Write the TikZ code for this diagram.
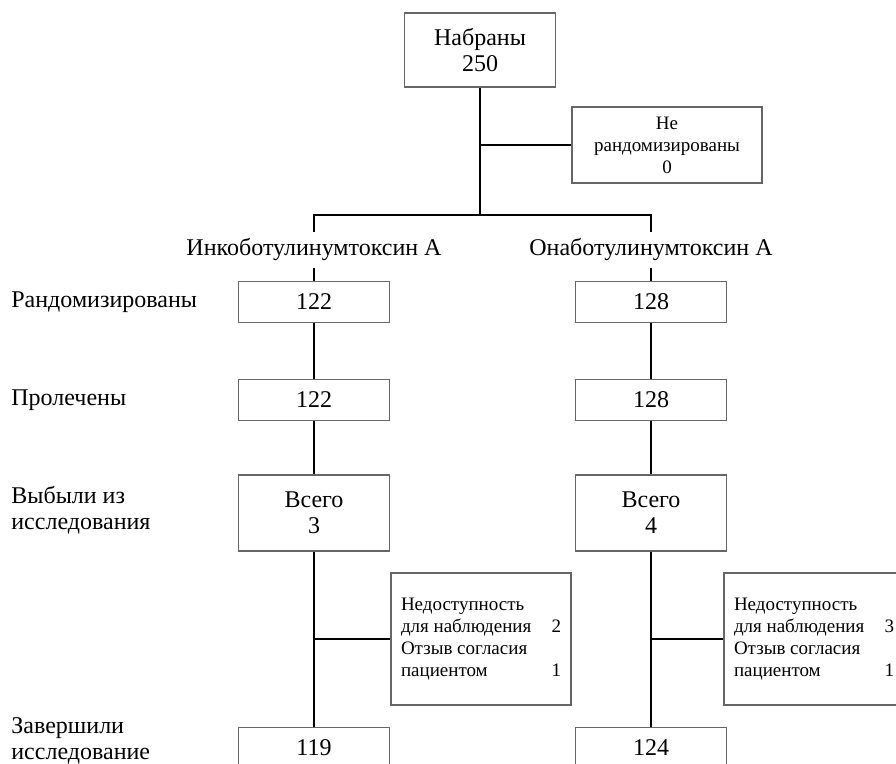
\documentclass[tikz,border=0pt]{standalone}
\usepackage{fontspec}
\setmainfont{Liberation Serif}
\usepackage{tikz}
\usetikzlibrary{positioning}

\begin{document}
\begin{tikzpicture}[x=0.5pt, y=-0.5pt,
        every node/.style={font=\fontsize{12}{13}\selectfont},
        countbox/.style={draw=black!60, line width=0.7pt, minimum width=75.5pt, minimum height=20.5pt, align=center, inner sep=2pt},
        sidebox/.style={draw=black!60, line width=0.7pt, minimum width=90pt, minimum height=66pt, inner sep=0pt, font=\fontsize{9.5}{10.9}\selectfont},
        rowlabel/.style={anchor=west, align=left, inner sep=0pt},
        link/.style={line width=1pt}]
        \clip (0,0) rectangle (896,764);
        \node[countbox, minimum height=37pt] (enrolled) at (480,50) {Набраны\\250};
        \node[countbox, minimum width=95pt, minimum height=38pt, font=\fontsize{9.5}{11}\selectfont] (notrand) at (667,145) {Не\\рандомизированы\\0};
        \coordinate (split) at (480,215);
        \coordinate (lsplit) at (314,215);
        \coordinate (rsplit) at (651,215);

        % the two arms
        \node (inco) at (314,250) {Инкоботулинумтоксин А};
        \node (ona) at (651,250) {Онаботулинумтоксин А};
        \node[countbox] (irand) at (314,302) {122};
        \node[countbox] (orand) at (651,302) {128};
        \node[countbox] (itreat) at (314,400) {122};
        \node[countbox] (otreat) at (651,400) {128};
        \node[countbox, minimum height=38pt] (idrop) at (314,513) {Всего\\3};
        \node[countbox, minimum height=38pt] (odrop) at (651,513) {Всего\\4};
        \node[sidebox] (ireason) at (481,639) {\begin{tabular*}{80pt}{@{}l@{\extracolsep{\fill}}r@{}}
            Недоступность & \\ для наблюдения & 2\\ Отзыв согласия & \\ пациентом & 1
          \end{tabular*}};
        \node[sidebox] (oreason) at (814,639) {\begin{tabular*}{80pt}{@{}l@{\extracolsep{\fill}}r@{}}
            Недоступность & \\ для наблюдения & 3\\ Отзыв согласия & \\ пациентом & 1
          \end{tabular*}};
        \node[countbox] (idone) at (314,748) {119};
        \node[countbox] (odone) at (651,748) {124};

        % row labels
        \node[rowlabel] (lrand) at (11,302) {Рандомизированы};
        \node[rowlabel] (ltreat) at (11,400) {Пролечены};
        \node[rowlabel] (ldrop) at (11,510) {Выбыли из\\исследования};
        \node[rowlabel] (ldone) at (11,741) {Завершили\\исследование};

        \draw[link] (enrolled) -- (split);
        \draw[link] (enrolled.south |- notrand.west) -- (notrand.west);
        \draw[link] (inco.north) -- (lsplit) -- (rsplit) -- (ona.north);
        \draw[link] (inco.south) -- (irand);
        \draw[link] (ona.south) -- (orand);
        \draw[link] (irand) -- (itreat);
        \draw[link] (orand) -- (otreat);
        \draw[link] (itreat) -- (idrop);
        \draw[link] (otreat) -- (odrop);
        \draw[link] (idrop) -- (idone);
        \draw[link] (odrop) -- (odone);
        \draw[link] (idrop.south |- ireason.west) -- (ireason.west);
        \draw[link] (odrop.south |- oreason.west) -- (oreason.west);
      \end{tikzpicture}
\end{document}
